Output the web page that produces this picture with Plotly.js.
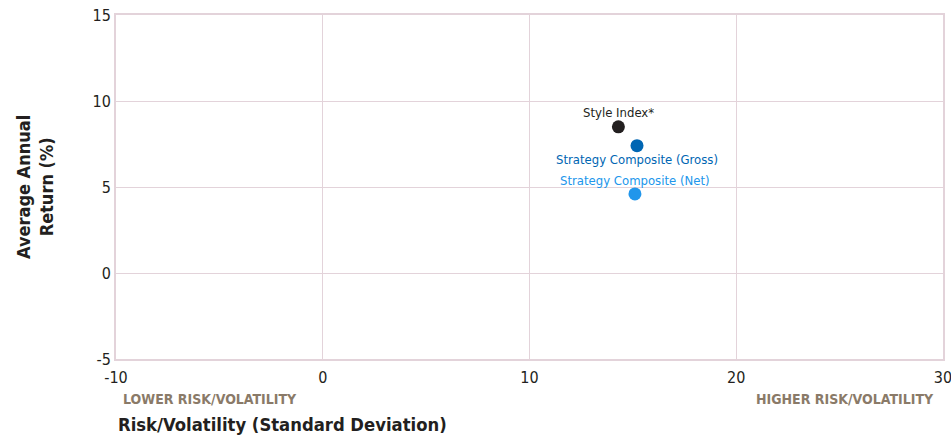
<!DOCTYPE html>
<html>
<head>
<meta charset="utf-8">
<script src="https://cdn.plot.ly/plotly-3.0.1.min.js"></script>
<style>html,body{margin:0;padding:0;background:#fff;}#chart{width:951px;height:437px;}</style>
</head>
<body>
<div id="chart"></div>
<script>
const names = ["Style Index*", "Strategy Composite (Gross)", "Strategy Composite (Net)"];
const risk = [14.3, 15.2, 15.1];
const ret = [8.5, 7.4, 4.6];
const colors = ["#231f20", "#0066b3", "#2196eb"];
const labelShift = [14, -14, 13];
const xTicks = [-10, 0, 10, 20, 30];
const yTicks = [-5, 0, 5, 10, 15];

const FONT = '"Liberation Sans Narrow", "DejaVu Sans Condensed", Arial Narrow, sans-serif';

const traces = names.map((n, i) => ({
  type: "scatter",
  mode: "markers",
  x: [risk[i]],
  y: [ret[i]],
  marker: {size: 13, color: colors[i]},
  cliponaxis: false,
  showlegend: false,
  hoverinfo: "skip"
}));

const pointLabels = names.map((n, i) => ({
  x: risk[i], y: ret[i], xref: "x", yref: "y",
  text: n, showarrow: false, yshift: labelShift[i],
  xanchor: "center", yanchor: "middle",
  font: {family: FONT, size: 13, color: colors[i]}
}));

const gridCol = "#e3d3da";
const layout = {
  width: 951, height: 437,
  margin: {l: 116, r: 8, t: 15, b: 78},
  paper_bgcolor: "#fff", plot_bgcolor: "#fff",
  font: {family: FONT, color: "#231f20"},
  showlegend: false,
  xaxis: {
    range: [-10, 30], tickvals: xTicks, ticktext: xTicks.map(String),
    showgrid: true, gridcolor: gridCol, gridwidth: 1, zeroline: false,
    showline: true, linecolor: gridCol, linewidth: 2, mirror: true,
    ticklabeloverflow: "allow", ticklabelstandoff: 3,
    ticks: "", tickfont: {family: FONT, size: 16, color: "#231f20"}, fixedrange: true
  },
  yaxis: {
    range: [-5, 15], tickvals: yTicks, ticktext: yTicks.map(String),
    showgrid: true, gridcolor: gridCol, gridwidth: 1, zeroline: false,
    showline: true, linecolor: gridCol, linewidth: 2, mirror: true,
    ticklabeloverflow: "allow",
    ticks: "", tickfont: {family: FONT, size: 16, color: "#231f20"}, fixedrange: true
  },
  annotations: pointLabels.concat([
    {xref: "paper", yref: "paper", x: 0.006, y: -0.115, xanchor: "left", yanchor: "middle",
     text: "<b>LOWER RISK/VOLATILITY</b>", showarrow: false,
     font: {family: FONT, size: 14, color: "#8a7a68"}},
    {xref: "paper", yref: "paper", x: 0.992, y: -0.115, xanchor: "right", yanchor: "middle",
     text: "<b>HIGHER RISK/VOLATILITY</b>", showarrow: false,
     font: {family: FONT, size: 14, color: "#8a7a68"}},
    {xref: "paper", yref: "paper", x: 0, y: -0.19, xanchor: "left", yanchor: "middle",
     text: "<b>Risk/Volatility (Standard Deviation)</b>", showarrow: false,
     font: {family: FONT, size: 18.3, color: "#231f20"}},
    {xref: "paper", yref: "paper", x: -0.098, y: 0.5, xanchor: "center", yanchor: "middle",
     textangle: -90, align: "center",
     text: "<b>Average Annual<br>Return (%)</b>", showarrow: false,
     font: {family: FONT, size: 18, color: "#231f20"}}
  ])
};

Plotly.newPlot("chart", traces, layout, {displayModeBar: false, staticPlot: true});
</script>
</body>
</html>
